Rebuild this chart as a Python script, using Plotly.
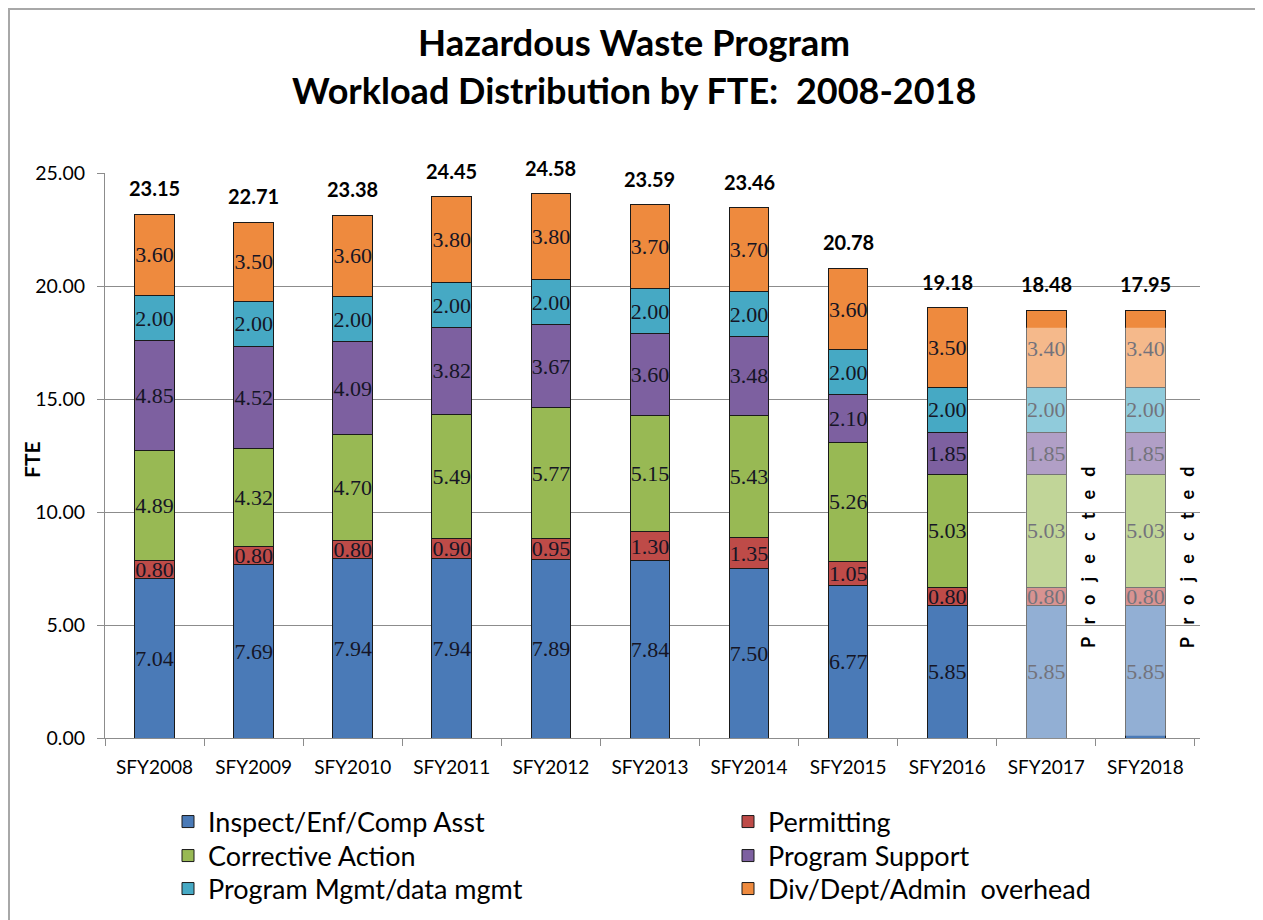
import plotly.graph_objects as go

categories = ["SFY2008", "SFY2009", "SFY2010", "SFY2011", "SFY2012", "SFY2013",
              "SFY2014", "SFY2015", "SFY2016", "SFY2017", "SFY2018"]
inspect = [7.04, 7.69, 7.94, 7.94, 7.89, 7.84, 7.50, 6.77, 5.85, 5.85, 5.85]
permitting = [0.80, 0.80, 0.80, 0.90, 0.95, 1.30, 1.35, 1.05, 0.80, 0.80, 0.80]
corrective = [4.89, 4.32, 4.70, 5.49, 5.77, 5.15, 5.43, 5.26, 5.03, 5.03, 5.03]
support = [4.85, 4.52, 4.09, 3.82, 3.67, 3.60, 3.48, 2.10, 1.85, 1.85, 1.85]
mgmt = [2.00, 2.00, 2.00, 2.00, 2.00, 2.00, 2.00, 2.00, 2.00, 2.00, 2.00]
overhead = [3.60, 3.50, 3.60, 3.80, 3.80, 3.70, 3.70, 3.60, 3.50, 3.40, 3.40]
total_labels = ["23.15", "22.71", "23.38", "24.45", "24.58", "23.59",
                "23.46", "20.78", "19.18", "18.48", "17.95"]
projected = ["SFY2017", "SFY2018"]
projected_overlay_bottom = [0.0, 0.1]
projected_overlay_top = [18.15, 18.15]

series = [
    ("Inspect/Enf/Comp Asst", inspect, "#4A7AB7"),
    ("Permitting", permitting, "#BE4B48"),
    ("Corrective Action", corrective, "#98B954"),
    ("Program Support", support, "#7D60A0"),
    ("Program Mgmt/data mgmt", mgmt, "#46A9C4"),
    ("Div/Dept/Admin  overhead", overhead, "#EE8A3E"),
]

BAR_W = 0.4
legend_ids = ["legend"] + ["legend%d" % k for k in range(2, len(series) + 1)]
fig = go.Figure()
for (name, vals, color), lg in zip(series, legend_ids):
    fig.add_trace(go.Bar(
        x=categories, y=vals, name=name, width=BAR_W, legend=lg,
        marker=dict(color=color, line=dict(color="#1a1a1a", width=1)),
        texttemplate="%{y:.2f}", textposition="inside", insidetextanchor="middle",
        textangle=0, constraintext="none",
        textfont=dict(family="Liberation Serif", size=22, color="#151525"),
    ))

sums = [sum(v) for v in zip(*[s[1] for s in series])]

F = "Lato"
annotations = []
for cat, s, lab in zip(categories, sums, total_labels):
    annotations.append(dict(x=cat, y=s, xref="x", yref="y", text=lab, showarrow=False,
                            yanchor="bottom", yshift=12,
                            font=dict(family=F, size=20, color="black", weight="bold")))
for cat in projected:
    i = categories.index(cat)
    annotations.append(dict(x=i + 0.42, y=8.0, xref="x", yref="y",
                            text="\u00a0\u00a0\u00a0".join("Projected"), showarrow=False,
                            textangle=-90, xanchor="center", yanchor="middle",
                            font=dict(family=F, size=18, color="black", weight="bold")))

# page offset of the figure (body margin) and plot area, in reference pixels
OFF = 8
W, H = 1263 - OFF, 920 - OFF
L, R, T, B = 105 - OFF, 1200 - OFF, 173 - OFF, 738 - OFF
def px(x):
    return (x - OFF - L) / (R - L)
def py(y):
    return (B - (y - OFF)) / (B - T)

annotations += [
    dict(x=px(634), y=py(42), xref="paper", yref="paper", text="Hazardous Waste Program",
         showarrow=False, xanchor="center", yanchor="middle",
         font=dict(family=F, size=36.5, color="black", weight="bold")),
    dict(x=px(634), y=py(90), xref="paper", yref="paper",
         text="Workload Distribution by FTE:\u00a0 2008-2018",
         showarrow=False, xanchor="center", yanchor="middle",
         font=dict(family=F, size=36, color="black", weight="bold")),
    dict(x=px(31), y=py(460), xref="paper", yref="paper", text="FTE", textangle=-90,
         showarrow=False, xanchor="center", yanchor="middle",
         font=dict(family=F, size=21, color="black", weight="bold")),
]

shapes = [
    dict(type="rect", xref="paper", yref="paper", x0=px(9), x1=px(1256), y0=py(940), y1=py(9),
         line=dict(color="#a8a8a8", width=2), layer="below"),
]
for cat, y0, y1 in zip(projected, projected_overlay_bottom, projected_overlay_top):
    i = categories.index(cat)
    shapes.append(dict(type="rect", xref="x", yref="y", x0=i - BAR_W / 2 - 0.01,
                       x1=i + BAR_W / 2 + 0.01, y0=y0, y1=y1,
                       fillcolor="rgba(255,255,255,0.4)", line=dict(width=0), layer="above"))

# legend grid: 2 columns x 3 rows (reference pixel positions)
legend_cols = [168, 728]
legend_rows = [822, 856, 889]
legends = {}
for k, lg in enumerate(legend_ids):
    legends[lg] = dict(x=px(legend_cols[k % 2]), y=py(legend_rows[k // 2]),
                       xanchor="left", yanchor="middle", orientation="v",
                       bgcolor="rgba(0,0,0,0)", borderwidth=0,
                       font=dict(family=F, size=27, color="black"))

fig.update_layout(
    width=W, height=H,
    margin=dict(l=L, r=W - R, t=T, b=H - B, autoexpand=False),
    barmode="stack",
    paper_bgcolor="white", plot_bgcolor="white",
    showlegend=True,
    xaxis=dict(type="category", showgrid=False, showline=True, linecolor="#8c8c8c",
               ticks="outside", tickson="boundaries", ticklen=7, tickcolor="#8c8c8c",
               ticklabelstandoff=12,
               tickfont=dict(family=F, size=19, color="black")),
    yaxis=dict(range=[0, 25], tickvals=[0, 5, 10, 15, 20, 25], tickformat=".2f",
               showgrid=True, gridcolor="#8c8c8c", gridwidth=1, showline=True,
               linecolor="#8c8c8c", ticks="outside", ticklen=7, tickcolor="#8c8c8c",
               ticklabelstandoff=8, zeroline=False,
               tickfont=dict(family=F, size=19.5, color="black")),
    annotations=annotations,
    shapes=shapes,
    **legends,
)

fig.write_html("out.html")
